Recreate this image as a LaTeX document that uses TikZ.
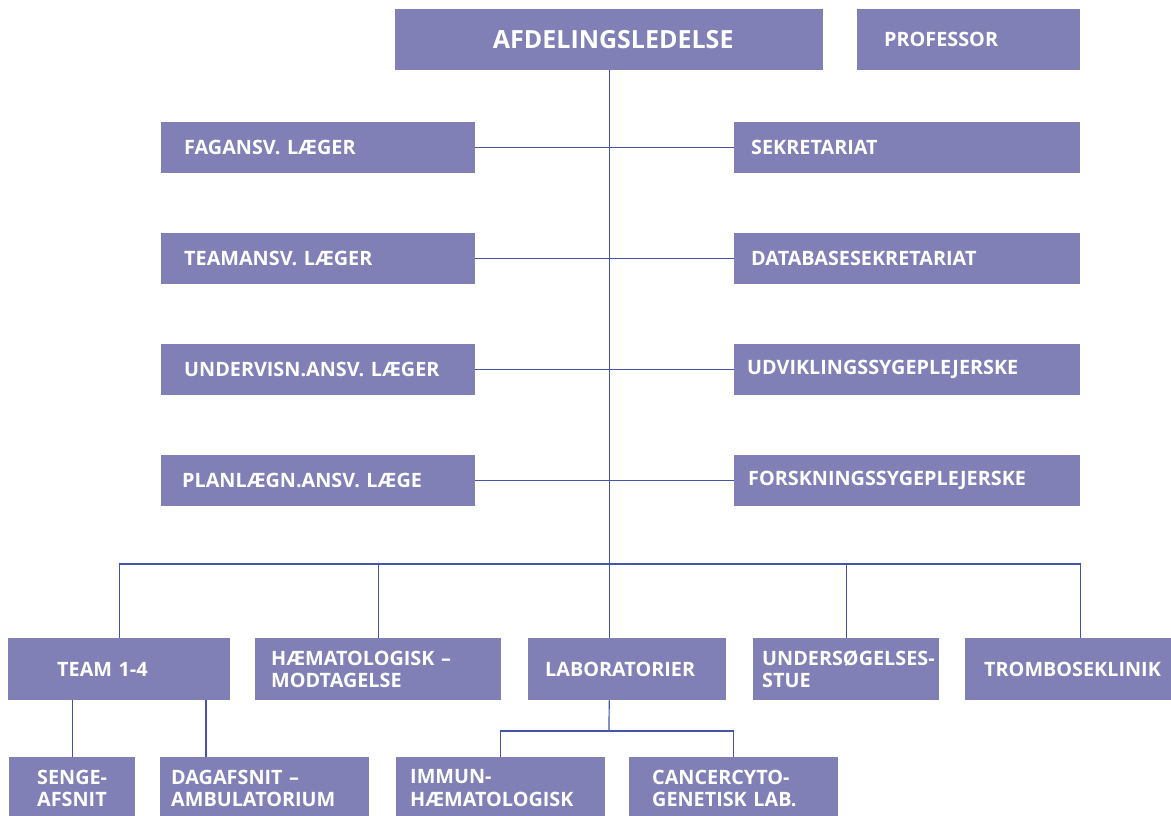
\documentclass[tikz,border=0pt]{standalone}
\usepackage{fontspec}
\setmainfont{Open Sans}
\hyphenpenalty=10000
\exhyphenpenalty=10000
\definecolor{unitfill}{HTML}{807FB6}
\definecolor{orgline}{HTML}{4455A8}
\tikzset{
  unit/.style={fill=unitfill, text=white, anchor=north west, align=left,
    inner ysep=0pt, minimum height=51,
    font=\fontsize{19.8}{22.5}\selectfont\bfseries},
  link/.style={draw=orgline, line width=1.2pt}
}
\begin{document}
\begin{tikzpicture}[x=1pt, y=-1pt]
        \useasboundingbox (0,0) rectangle (1171,816);
        \clip (0,0) rectangle (1171,816);
        \node [unit, align=center, inner xsep=0, text width=428, minimum height=61, font=\fontsize{25}{28}\selectfont\bfseries] (top) at (395,9) {\hspace*{8pt}AFDELINGSLEDELSE};
        \node [unit, inner xsep=27, text width=169, minimum height=61] (prof) at (857,9) {PROFESSOR};
        \node [unit, inner xsep=23, text width=268] (fag) at (161,122) {FAGANSV. LÆGER};
        \node [unit, inner xsep=23, text width=268] (teamansv) at (161,233) {TEAMANSV. LÆGER};
        \node [unit, inner xsep=23, text width=268] (underv) at (161,344) {UNDERVISN.ANSV. LÆGER};
        \node [unit, inner xsep=21, text width=272] (plan) at (161,455) {PLANLÆGN.ANSV. LÆGE};
        \node [unit, inner xsep=17, text width=312] (sekr) at (734,122) {SEKRETARIAT};
        \node [unit, inner xsep=17, text width=312] (datab) at (734,233) {DATABASESEKRETARIAT};
        \node [unit, inner xsep=13, text width=320] (udvik) at (734,344) {UDVIKLINGSSYGEPLEJERSKE};
        \node [unit, inner xsep=14, text width=318] (forsk) at (734,455) {FORSKNINGSSYGEPLEJERSKE};
        \node [unit, inner xsep=49, text width=124, minimum height=62] (team14) at (8,638) {TEAM 1-4};
        \node [unit, inner xsep=16, text width=214, minimum height=62] (haemat) at (255,638) {HÆMATOLOGISK –\\MODTAGELSE};
        \node [unit, inner xsep=17, text width=164, minimum height=62] (lab) at (528,638) {LABORATORIER};
        \node [unit, inner xsep=9, text width=168, minimum height=62] (unders) at (753,638) {UNDERSØGELSES-\\STUE};
        \node [unit, inner xsep=19, text width=168, minimum height=62] (trombo) at (965,638) {TROMBOSEKLINIK};
        \node [unit, inner xsep=28, text width=70, minimum height=62] (senge) at (9,757) {SENGE-\\AFSNIT};
        \node [unit, inner xsep=11, text width=187, minimum height=62] (dagaf) at (160,757) {DAGAFSNIT –\\AMBULATORIUM};
        \node [unit, inner xsep=14, text width=181, minimum height=62] (immun) at (396,757) {IMMUN-\\HÆMATOLOGISK};
        \node [unit, inner xsep=23, text width=163, minimum height=62] (cancer) at (629,757) {CANCERCYTO-\\GENETISK LAB.};
        \coordinate (bus) at (609,564);
        \coordinate (labsplit) at (609,731);
        \coordinate (dagin) at (206,757);
        \draw [link] (top.south) -- (top.south |- lab.north);
        \draw [link] (fag.east) -- (sekr.west);
        \draw [link] (teamansv.east) -- (datab.west);
        \draw [link] (underv.east) -- (udvik.west);
        \draw [link] (plan.east) -- (forsk.west);
        \draw [link] (team14.north) |- (bus) -| (trombo.north -| forsk.east);
        \draw [link] (haemat.north) -- (haemat.north |- bus);
        \draw [link] (unders.north) -- (unders.north |- bus);
        \draw [link] (senge.north) -- (senge.north |- team14.south);
        \draw [link] (dagin) -- (dagin |- team14.south);
        \draw [link] (top.south |- lab.south) -- (labsplit);
        \draw [link] (immun.north) |- (labsplit) -| (cancer.north);
      \end{tikzpicture}
\end{document}
